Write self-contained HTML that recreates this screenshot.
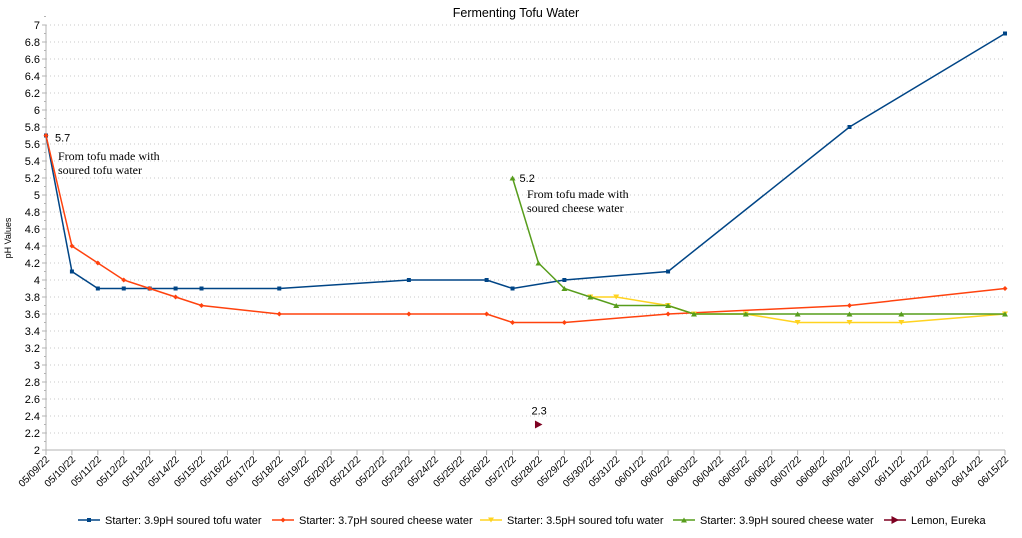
<!DOCTYPE html>
<html><head><meta charset="utf-8"><style>
body{margin:0;background:#fff;}
svg{display:block;font-family:"Liberation Sans",sans-serif;}
</style></head><body>
<svg id="chart" width="1022" height="538" xmlns="http://www.w3.org/2000/svg">
<text x="516" y="17" text-anchor="middle" font-size="12.5">Fermenting Tofu Water</text>
<text transform="translate(11,238) rotate(-90)" text-anchor="middle" font-size="9">pH Values</text>
<g id="grid"></g><g id="axes"></g><g id="series"></g><g id="labels"></g><g id="legend"></g>
</svg>
<script>
const dates=["05/09/22","05/10/22","05/11/22","05/12/22","05/13/22","05/14/22","05/15/22","05/16/22","05/17/22","05/18/22","05/19/22","05/20/22","05/21/22","05/22/22","05/23/22","05/24/22","05/25/22","05/26/22","05/27/22","05/28/22","05/29/22","05/30/22","05/31/22","06/01/22","06/02/22","06/03/22","06/04/22","06/05/22","06/06/22","06/07/22","06/08/22","06/09/22","06/10/22","06/11/22","06/12/22","06/13/22","06/14/22","06/15/22"];
const yTicks=[2,2.2,2.4,2.6,2.8,3,3.2,3.4,3.6,3.8,4,4.2,4.4,4.6,4.8,5,5.2,5.4,5.6,5.8,6,6.2,6.4,6.6,6.8,7];
const tofuDays=["05/09/22","05/10/22","05/11/22","05/12/22","05/13/22","05/14/22","05/15/22","05/18/22","05/23/22","05/26/22","05/27/22","05/29/22","06/02/22","06/09/22","06/15/22"];
const tofuVals=[5.7,4.1,3.9,3.9,3.9,3.9,3.9,3.9,4.0,4.0,3.9,4.0,4.1,5.8,6.9];
const cheeseDays=["05/09/22","05/10/22","05/11/22","05/12/22","05/13/22","05/14/22","05/15/22","05/18/22","05/23/22","05/26/22","05/27/22","05/29/22","06/02/22","06/09/22","06/15/22"];
const cheeseVals=[5.7,4.4,4.2,4.0,3.9,3.8,3.7,3.6,3.6,3.6,3.5,3.5,3.6,3.7,3.9];
const tofu35Days=["05/30/22","05/31/22","06/02/22","06/03/22","06/05/22","06/07/22","06/09/22","06/11/22","06/15/22"];
const tofu35Vals=[3.8,3.8,3.7,3.6,3.6,3.5,3.5,3.5,3.6];
const cheese39Days=["05/27/22","05/28/22","05/29/22","05/30/22","05/31/22","06/02/22","06/03/22","06/05/22","06/07/22","06/09/22","06/11/22","06/15/22"];
const cheese39Vals=[5.2,4.2,3.9,3.8,3.7,3.7,3.6,3.6,3.6,3.6,3.6,3.6];
const lemonDays=["05/28/22"];
const lemonVals=[2.3];

const NS="http://www.w3.org/2000/svg";
const X0=46,X1=1005,Y0=450,Y1=25,YMIN=2,YMAX=7;
const xs=d=>X0+dates.indexOf(d)*(X1-X0)/(dates.length-1);
const ys=v=>Y0-(v-YMIN)*(Y0-Y1)/(YMAX-YMIN);
function mk(tag,attrs,parent){const e=document.createElementNS(NS,tag);for(const k in attrs)e.setAttribute(k,attrs[k]);parent.appendChild(e);return e;}
const grid=document.getElementById('grid'),axes=document.getElementById('axes'),ser=document.getElementById('series'),lab=document.getElementById('labels'),leg=document.getElementById('legend');

yTicks.forEach(v=>{
  const y=ys(v);
  if(v>YMIN){const g=mk('line',{x1:X0,x2:X1,y1:y,y2:y,stroke:'#c8c8c8','stroke-dasharray':'1,3'},grid);
  
  }
  mk('line',{x1:X0-4,x2:X0,y1:y,y2:y,stroke:'#b3b3b3'},axes);
  mk('line',{x1:X0-2,x2:X0,y1:y-8.5,y2:y-8.5,stroke:'#b3b3b3'},axes);
  const t=mk('text',{x:X0-6,y:y+4,'text-anchor':'end','font-size':'11'},axes);
  t.textContent=String(v);
  
  
});
mk('line',{x1:X0,x2:X0,y1:Y1,y2:Y0,stroke:'#b3b3b3'},axes);
mk('line',{x1:X0,x2:X1,y1:Y0,y2:Y0,stroke:'#b3b3b3'},axes);
dates.forEach(d=>{
  const x=xs(d);
  mk('line',{x1:x,x2:x,y1:Y0,y2:Y0+5,stroke:'#b3b3b3'},axes);
  const t=mk('text',{transform:`translate(${x+4},${Y0+10}) rotate(-45)`,'text-anchor':'end','font-size':'10'},axes);
  t.textContent=d;
  
  
});

function marker(shape,x,y,c,p){
  if(shape==='sq')return mk('rect',{x:x-2,y:y-2,width:4,height:4,fill:c},p);
  if(shape==='dia')return mk('polygon',{points:`${x},${y-2.5} ${x+2.5},${y} ${x},${y+2.5} ${x-2.5},${y}`,fill:c},p);
  if(shape==='tdn')return mk('polygon',{points:`${x-3},${y-2.5} ${x+3},${y-2.5} ${x},${y+2.5}`,fill:c},p);
  if(shape==='tup')return mk('polygon',{points:`${x-3},${y+2.5} ${x+3},${y+2.5} ${x},${y-2.5}`,fill:c},p);
  return mk('polygon',{points:`${x-3.5},${y-4} ${x+4},${y} ${x-3.5},${y+4}`,fill:c},p);
}
const seriesList=[
 {name:'tofu-3-9',days:tofuDays,vals:tofuVals,c:'#004586',m:'sq',label:'Starter: 3.9pH soured tofu water'},
 {name:'cheese-3-7',days:cheeseDays,vals:cheeseVals,c:'#ff420e',m:'dia',label:'Starter: 3.7pH soured cheese water'},
 {name:'tofu-3-5',days:tofu35Days,vals:tofu35Vals,c:'#ffd320',m:'tdn',label:'Starter: 3.5pH soured tofu water'},
 {name:'cheese-3-9',days:cheese39Days,vals:cheese39Vals,c:'#579d1c',m:'tup',label:'Starter: 3.9pH soured cheese water'},
 {name:'lemon',days:lemonDays,vals:lemonVals,c:'#7e0021',m:'tri',label:'Lemon, Eureka'}
];
seriesList.forEach((s,i)=>{
  const g=mk('g',{},ser);
  
  
  if(s.days.length>1){
    const pl=mk('polyline',{points:s.days.map((d,j)=>xs(d)+','+ys(s.vals[j])).join(' '),fill:'none',stroke:s.c,'stroke-width':'1.5'},g);
    
    
  }
  s.days.forEach((d,j)=>{
    const m=marker(s.m,xs(d),ys(s.vals[j]),s.c,g);
    
    
  });
  const lx=[78,272,480,673,884][i];
  const lg=mk('g',{},leg);
  
  
  mk('line',{x1:lx,x2:lx+22,y1:520,y2:520,stroke:s.c,'stroke-width':'1.6'},lg);
  marker(s.m,lx+11,520,s.c,lg);
  const t=mk('text',{x:lx+27,y:524,'font-size':'11'},lg);
  t.textContent=s.label;
});
function txt(x,y,s,size,fam,name){const t=mk('text',{x:x,y:y,'font-size':size,'font-family':fam},lab);t.textContent=s;
 
 }
txt(xs(tofuDays[0])+9,ys(tofuVals[0])+6,String(tofuVals[0]),11,'Liberation Sans','value-label');
txt(58,160,'From tofu made with',12,'Liberation Serif','annotation-tofu');
txt(58,174,'soured tofu water',12,'Liberation Serif','annotation-tofu');
txt(xs(cheese39Days[0])+7,ys(cheese39Vals[0])+4,String(cheese39Vals[0]),11,'Liberation Sans','value-label');
txt(527,198,'From tofu made with',12,'Liberation Serif','annotation-cheese');
txt(527,212,'soured cheese water',12,'Liberation Serif','annotation-cheese');
txt(xs(lemonDays[0])-7,ys(lemonVals[0])-10,String(lemonVals[0]),11,'Liberation Sans','value-label');
</script>
</body></html>
